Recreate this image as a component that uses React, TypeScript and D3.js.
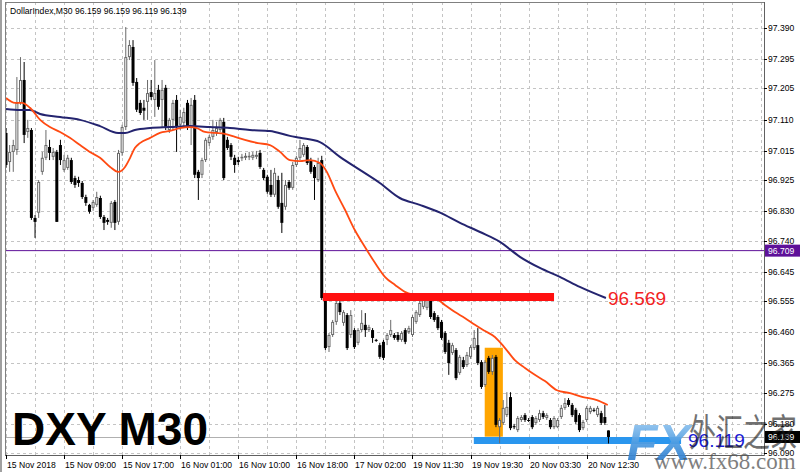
import React from "react";
import * as d3 from "d3";

const W = 800;
const H = 472;

const titleText = "DollarIndex,M30  96.159 96.159 96.119 96.139";

const barOpen = [
  97.069, 96.980, 97.011, 97.017, 97.161, 97.231, 97.072, 97.078, 96.809, 96.825,
  96.950, 96.993, 97.026, 96.996, 97.011, 97.032, 96.956, 96.962, 96.986, 96.931,
  96.925, 96.916, 96.873, 96.849, 96.840, 96.849, 96.870, 96.812, 96.803, 96.794,
  96.858, 96.797, 97.008, 97.087, 97.301, 97.332, 97.225, 97.161, 97.146, 97.164,
  97.194, 97.170, 97.201, 97.170, 97.207, 97.078, 97.109, 97.170, 97.094, 97.100,
  97.161, 97.087, 97.170, 96.950, 96.941, 96.986, 97.038, 97.057, 97.069, 97.078,
  97.103, 97.048, 97.032, 96.993, 96.986, 96.993, 96.993, 96.996, 96.993, 96.996,
  97.008, 96.956, 96.935, 96.910, 96.880, 96.925, 96.855, 96.843, 96.919, 96.901,
  96.971, 96.993, 97.002, 97.026, 96.986, 96.965, 96.925, 96.986, 96.558, 96.414,
  96.451, 96.491, 96.549, 96.488, 96.512, 96.451, 96.466, 96.427, 96.466, 96.482,
  96.466, 96.466, 96.436, 96.420, 96.430, 96.436, 96.451, 96.451, 96.451, 96.436,
  96.466, 96.460, 96.451, 96.491, 96.512, 96.537, 96.534, 96.564, 96.518, 96.506,
  96.491, 96.457, 96.427, 96.396, 96.405, 96.335, 96.374, 96.359, 96.384, 96.411,
  96.420, 96.368, 96.298, 96.381, 96.338, 96.384, 96.169, 96.182, 96.206, 96.261,
  96.172, 96.160, 96.191, 96.206, 96.191, 96.200, 96.182, 96.191, 96.212, 96.197,
  96.191, 96.169, 96.169, 96.200, 96.228, 96.252, 96.237, 96.222, 96.206, 96.166,
  96.191, 96.215, 96.222, 96.206, 96.212, 96.200, 96.159,
];

const barHigh = [
  97.084, 97.032, 97.048, 97.240, 97.301, 97.286, 97.109, 97.084, 96.818, 96.925,
  97.011, 97.078, 97.048, 97.023, 97.017, 97.048, 97.002, 97.002, 96.993, 96.938,
  96.935, 96.922, 96.880, 96.852, 96.864, 96.889, 96.877, 96.818, 96.809, 96.861,
  96.864, 97.017, 97.094, 97.393, 97.353, 97.353, 97.237, 97.170, 97.170, 97.231,
  97.231, 97.292, 97.216, 97.231, 97.216, 97.115, 97.170, 97.185, 97.140, 97.146,
  97.170, 97.176, 97.185, 96.956, 96.993, 97.054, 97.063, 97.109, 97.103, 97.115,
  97.115, 97.057, 97.038, 97.002, 96.996, 97.005, 97.008, 97.011, 97.011, 97.014,
  97.017, 96.962, 96.941, 96.956, 96.962, 96.938, 96.947, 96.925, 96.925, 96.980,
  96.999, 97.048, 97.038, 97.032, 96.993, 96.971, 96.993, 96.999, 96.564, 96.457,
  96.497, 96.558, 96.555, 96.527, 96.518, 96.527, 96.472, 96.472, 96.527, 96.518,
  96.482, 96.472, 96.439, 96.427, 96.436, 96.457, 96.497, 96.457, 96.460, 96.463,
  96.472, 96.479, 96.512, 96.527, 96.555, 96.564, 96.567, 96.573, 96.524, 96.512,
  96.497, 96.463, 96.436, 96.427, 96.411, 96.390, 96.384, 96.399, 96.420, 96.466,
  96.472, 96.374, 96.374, 96.387, 96.390, 96.390, 96.197, 96.252, 96.276, 96.276,
  96.179, 96.203, 96.206, 96.212, 96.197, 96.206, 96.203, 96.222, 96.219, 96.212,
  96.197, 96.203, 96.197, 96.237, 96.258, 96.258, 96.243, 96.228, 96.212, 96.191,
  96.234, 96.234, 96.228, 96.234, 96.219, 96.237, 96.159,
];

const barLow = [
  96.962, 96.950, 96.950, 97.002, 97.155, 97.038, 97.054, 96.803, 96.748, 96.809,
  96.941, 96.986, 96.986, 96.986, 96.797, 96.971, 96.950, 96.956, 96.913, 96.901,
  96.904, 96.867, 96.846, 96.822, 96.831, 96.843, 96.806, 96.772, 96.788, 96.779,
  96.772, 96.788, 96.999, 97.078, 97.292, 97.213, 97.133, 97.124, 97.109, 97.109,
  97.170, 97.118, 97.140, 97.087, 97.078, 97.069, 97.078, 97.011, 97.078, 97.084,
  97.078, 97.032, 96.931, 96.864, 96.931, 96.980, 97.029, 97.048, 97.060, 97.072,
  96.925, 97.017, 96.986, 96.947, 96.971, 96.983, 96.986, 96.986, 96.986, 96.989,
  96.959, 96.925, 96.883, 96.873, 96.873, 96.837, 96.763, 96.834, 96.895, 96.895,
  96.965, 96.986, 96.996, 96.971, 96.944, 96.864, 96.919, 96.558, 96.405, 96.399,
  96.445, 96.482, 96.512, 96.479, 96.405, 96.442, 96.408, 96.420, 96.460, 96.445,
  96.460, 96.427, 96.430, 96.378, 96.374, 96.420, 96.445, 96.436, 96.430, 96.430,
  96.423, 96.454, 96.445, 96.485, 96.506, 96.530, 96.527, 96.500, 96.491, 96.466,
  96.436, 96.393, 96.329, 96.390, 96.313, 96.329, 96.347, 96.353, 96.378, 96.405,
  96.359, 96.286, 96.292, 96.332, 96.329, 96.169, 96.120, 96.176, 96.200, 96.160,
  96.163, 96.154, 96.185, 96.185, 96.185, 96.163, 96.176, 96.185, 96.194, 96.191,
  96.163, 96.163, 96.166, 96.194, 96.222, 96.231, 96.200, 96.179, 96.154, 96.160,
  96.185, 96.209, 96.215, 96.200, 96.176, 96.176, 96.119,
];

const barClose = [
  96.971, 97.011, 97.032, 97.161, 97.231, 97.063, 97.084, 96.809, 96.797, 96.919,
  96.993, 97.032, 97.008, 97.011, 96.797, 96.986, 96.986, 96.993, 96.919, 96.910,
  96.916, 96.873, 96.855, 96.828, 96.858, 96.873, 96.812, 96.794, 96.797, 96.855,
  96.794, 97.008, 97.087, 97.301, 97.338, 97.222, 97.140, 97.130, 97.137, 97.191,
  97.179, 97.191, 97.149, 97.201, 97.087, 97.109, 97.161, 97.087, 97.118, 97.133,
  97.087, 97.155, 96.941, 96.931, 96.986, 97.048, 97.057, 97.078, 97.087, 97.109,
  96.931, 97.023, 96.996, 96.971, 96.980, 96.996, 96.999, 96.999, 97.002, 97.002,
  96.965, 96.931, 96.889, 96.880, 96.947, 96.843, 96.794, 96.910, 96.901, 96.971,
  96.993, 97.023, 97.032, 96.977, 96.950, 96.931, 96.977, 96.564, 96.411, 96.451,
  96.491, 96.549, 96.521, 96.521, 96.411, 96.512, 96.414, 96.466, 96.488, 96.466,
  96.475, 96.442, 96.433, 96.384, 96.381, 96.451, 96.466, 96.442, 96.436, 96.457,
  96.430, 96.472, 96.506, 96.521, 96.549, 96.558, 96.558, 96.506, 96.497, 96.472,
  96.442, 96.399, 96.365, 96.420, 96.319, 96.384, 96.353, 96.390, 96.414, 96.442,
  96.365, 96.292, 96.368, 96.338, 96.381, 96.176, 96.191, 96.228, 96.231, 96.166,
  96.169, 96.197, 96.200, 96.191, 96.189, 96.169, 96.197, 96.212, 96.200, 96.206,
  96.169, 96.197, 96.191, 96.228, 96.243, 96.237, 96.206, 96.185, 96.160, 96.185,
  96.228, 96.228, 96.222, 96.228, 96.182, 96.182, 96.139,
];

const fastMaBars = [
  0, 2.5, 4.4, 6.6, 9.4, 12.1, 14.9, 17.6, 20.4, 23.1, 25.9, 28.7, 30.9, 32.8, 34.2,
  35.5, 36.9, 39.7, 42.4, 45.2, 47.9, 50.7, 52.6, 54.8, 57.6, 60.3, 63.1, 65.8, 69.4,
  72.7, 75.5, 78.2, 81, 83.7, 86.5, 88.4, 90.6, 93.4, 96.1, 98.9, 101.7, 104.4, 107.2,
  109.9, 112.7, 115.4, 118.2, 120.9, 123.7, 126.4, 129.2, 132, 134.7, 137.5, 140.2,
  143, 145.7, 148.5, 151.8, 155.4, 159, 162.8, 165.8,
];
const fastMaValues = [
  97.176, 97.161, 97.161, 97.146, 97.109, 97.087, 97.072, 97.054, 97.032, 97.011,
  96.993, 96.965, 96.950, 96.965, 96.993, 97.023, 97.038, 97.054, 97.069, 97.075,
  97.084, 97.087, 97.084, 97.072, 97.069, 97.066, 97.057, 97.048, 97.038, 97.032,
  97.011, 96.986, 96.983, 96.986, 96.977, 96.950, 96.895, 96.834, 96.772, 96.720,
  96.671, 96.629, 96.604, 96.583, 96.573, 96.567, 96.564, 96.543, 96.521, 96.503,
  96.482, 96.463, 96.445, 96.411, 96.374, 96.350, 96.329, 96.310, 96.282, 96.273,
  96.261, 96.252, 96.237,
];

const slowMaBars = [
  0, 3.9, 6.6, 9.4, 14.9, 20.4, 25.9, 30.9, 32.8, 35.5, 39.7, 45.2, 50.7, 56.2, 61.7,
  67.2, 72.7, 78.2, 81, 86.5, 92, 97.5, 103, 108.5, 114, 119.6, 125.1, 130.6, 136.1,
  141.6, 147.1, 152.6, 158.1, 165.3,
];
const slowMaValues = [
  97.142, 97.139, 97.139, 97.127, 97.118, 97.109, 97.090, 97.069, 97.069, 97.078,
  97.084, 97.087, 97.090, 97.087, 97.084, 97.078, 97.075, 97.060, 97.054, 97.041,
  96.996, 96.956, 96.916, 96.870, 96.849, 96.825, 96.794, 96.766, 96.736, 96.690,
  96.656, 96.629, 96.598, 96.564,
];

const priceTicks = [
  97.39, 97.295, 97.205, 97.11, 97.015, 96.925, 96.83, 96.74, 96.645, 96.555, 96.46,
  96.365, 96.275, 96.18, 96.09,
];

const timeLabels = [
  "15 Nov 2018", "15 Nov 09:00", "15 Nov 17:00", "16 Nov 01:00", "16 Nov 10:00",
  "16 Nov 18:00", "17 Nov 02:00", "19 Nov 11:30", "19 Nov 19:30", "20 Nov 03:30",
  "20 Nov 12:30",
];
const timeLabelBars = [0, 16, 32, 48, 64, 80, 96, 112, 128, 144, 160];

const purpleLevel = 96.709;
const redLevel = 96.567;
const redLevelBars = [87.3, 151];
const blueLevel = 96.128;
const blueLevelBars = [128.9, 186];
const boxBars = [131.9, 136.9];
const boxPrices = [96.412, 96.14];
const bidPrice = 96.139;
const slowMaLabel = "96.569";
const blueLabel = "96.119";
const chartLabel = "DXY M30";
const watermarkLogo = "FX";
const watermarkName = "外汇之家";
const watermarkUrl = "www.fx68.com";

const PL = 5;
const PR = 764;
const PT = 2;
const PB = 455;

export default function App() {
  const x = d3.scaleLinear().domain([0, 160]).range([6, 586.7]);
  const y = d3.scaleLinear().domain([96.09, 97.39]).range([453, 28]);
  const gridBars = d3.range(0, 209, 8);

  const fastLine = d3
    .line<number>()
    .x((d, i) => x(fastMaBars[i]))
    .y((d) => y(d))
    .curve(d3.curveMonotoneX);
  const slowLine = d3
    .line<number>()
    .x((d, i) => x(slowMaBars[i]))
    .y((d) => y(d))
    .curve(d3.curveMonotoneX);

  const font = "'Liberation Sans', Arial, sans-serif";

  return (
    <svg
      width={W}
      height={H}
      style={{ position: "absolute", left: 0, top: 0, background: "#fff" }}
      fontFamily={font}
    >
      <defs>
        <clipPath id="plot">
          <rect x={PL} y={PT} width={PR - PL} height={PB - PT} />
        </clipPath>
        <linearGradient id="fxg" x1="0" y1="0" x2="0" y2="1">
          <stop offset="0" stopColor="#a6d0f3" />
          <stop offset="0.5" stopColor="#4f9de2" />
          <stop offset="1" stopColor="#1d6cc2" />
        </linearGradient>
      </defs>
      <rect x={0} y={0} width={W} height={H} fill="#fff" />
      <rect x={0} y={0} width={2} height={H} fill="#a0a0a0" />

      {/* grid */}
      <g stroke="#c4c4c4" strokeDasharray="3,3" strokeWidth={1}>
        {priceTicks.map((p) => (
          <line key={"h" + p} x1={PL} x2={PR} y1={Math.round(y(p)) + 0.5} y2={Math.round(y(p)) + 0.5} />
        ))}
        {gridBars.map((b) => (
          <line key={"v" + b} x1={Math.round(x(b)) + 0.5} x2={Math.round(x(b)) + 0.5} y1={PT} y2={PB} />
        ))}
      </g>

      <g clipPath="url(#plot)">
        <line x1={PL} x2={PR} y1={y(purpleLevel)} y2={y(purpleLevel)} stroke="#5e1199" strokeWidth={1} />
        <line x1={PL} x2={PR} y1={Math.round(y(bidPrice)) + 0.5} y2={Math.round(y(bidPrice)) + 0.5} stroke="#b0b0b0" strokeWidth={1} />
        <rect
          x={x(boxBars[0])}
          y={y(boxPrices[0])}
          width={x(boxBars[1]) - x(boxBars[0])}
          height={y(boxPrices[1]) - y(boxPrices[0])}
          fill="#ffa500"
        />
        <line x1={x(blueLevelBars[0])} x2={x(blueLevelBars[1])} y1={y(blueLevel)} y2={y(blueLevel)} stroke="#2a96ee" strokeWidth={7} />

        {barOpen.map((o, i) => {
          const c = barClose[i];
          const cx = x(i);
          const bull = c > o;
          const top = y(Math.max(o, c));
          const bot = y(Math.min(o, c));
          const hgt = Math.max(bot - top, 1);
          return (
            <g key={"c" + i}>
              <line x1={cx} x2={cx} y1={y(barHigh[i])} y2={y(barLow[i])} stroke={bull ? "#6a6a6a" : "#000"} strokeWidth={1} />
              {bull ? (
                <rect x={cx - 1} y={top + 0.5} width={2} height={Math.max(hgt - 1, 0.5)} fill="#fff" stroke="#6a6a6a" strokeWidth={1} />
              ) : (
                <rect x={cx - 1.5} y={top} width={3} height={hgt} fill="#000" />
              )}
            </g>
          );
        })}

        <path d={slowLine(slowMaValues) || ""} fill="none" stroke="#24246f" strokeWidth={2} />
        <path d={fastLine(fastMaValues) || ""} fill="none" stroke="#ff4a12" strokeWidth={1.8} />

        <line x1={x(redLevelBars[0])} x2={x(redLevelBars[1])} y1={y(redLevel)} y2={y(redLevel)} stroke="#ff1010" strokeWidth={8} />
      </g>

      <text x={x(slowMaBars[slowMaBars.length - 1]) + 2} y={y(redLevel) + 1} dy="0.35em" fontSize={19} fill="#f22222">
        {slowMaLabel}
      </text>
      <text x={688} y={y(blueLevel)} dy="0.35em" fontSize={19} fill="#1a1ad6">
        {blueLabel}
      </text>
      <text x={12} y={445} fontSize={46} fontWeight="bold" fill="#000">
        {chartLabel}
      </text>

      <line x1={PL + 0.5} x2={PL + 0.5} y1={PT} y2={PB} stroke="#808080" />
      <line x1={PL} x2={PR} y1={PT + 0.5} y2={PT + 0.5} stroke="#808080" />
      <line x1={PR + 0.5} x2={PR + 0.5} y1={PT} y2={PB + 0.5} stroke="#606060" />
      <line x1={PL} x2={PR + 0.5} y1={PB + 0.5} y2={PB + 0.5} stroke="#606060" />

      <text x={10} y={14} fontSize={8.6} fill="#000">
        {titleText}
      </text>

      {priceTicks.map((p) => (
        <g key={"t" + p}>
          <line x1={PR} x2={PR + 3} y1={Math.round(y(p)) + 0.5} y2={Math.round(y(p)) + 0.5} stroke="#000" />
          <text x={768} y={y(p)} dy="0.35em" fontSize={8.6} fill="#000">
            {p.toFixed(3)}
          </text>
        </g>
      ))}

      {timeLabelBars.map((b, i) => (
        <g key={"x" + b}>
          <line x1={Math.round(x(b)) + 0.5} x2={Math.round(x(b)) + 0.5} y1={PB} y2={PB + 4} stroke="#000" />
          <text x={Math.round(x(b)) + 1} y={468} fontSize={8.6} fill="#000">
            {timeLabels[i]}
          </text>
        </g>
      ))}

      <rect x={765} y={y(purpleLevel) - 6} width={35} height={12} fill="#5e1199" />
      <text x={768} y={y(purpleLevel)} dy="0.35em" fontSize={8.6} fill="#fff">
        {purpleLevel.toFixed(3)}
      </text>
      <rect x={765} y={y(bidPrice) - 6} width={35} height={12} fill="#000" />
      <text x={768} y={y(bidPrice)} dy="0.35em" fontSize={8.6} fill="#fff">
        {bidPrice.toFixed(3)}
      </text>

      <g>
        <text x={627} y={460} fontSize={50} fontWeight="bold" fill="url(#fxg)" opacity={0.92} fontStyle="italic">
          {watermarkLogo}
        </text>
        <text
          x={0}
          y={0}
          fontSize={27}
          fontFamily="'Noto Sans CJK SC', sans-serif"
          fill="#1a1a1a"
          opacity={0.62}
          transform="translate(689,446) scale(1,1.4)"
        >
          {watermarkName}
        </text>
        <text x={654} y={469} fontSize={23} fontFamily="'Liberation Serif', 'DejaVu Serif', serif" fill="#555" opacity={0.75}>
          {watermarkUrl}
        </text>
      </g>
    </svg>
  );
}
